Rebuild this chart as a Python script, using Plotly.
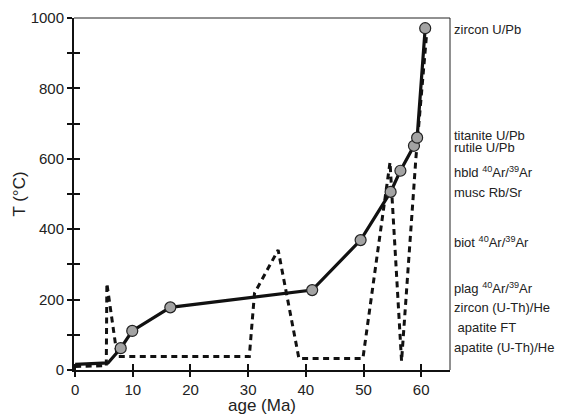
import plotly.graph_objects as go

# Solid path (T-t with data points)
solid_age = [0, 5.7, 7.9, 9.9, 16.5, 41.1, 49.5, 54.7, 56.4, 58.75, 59.3, 60.7]
solid_T = [16, 20, 62, 111, 178, 227, 369, 506, 566, 637, 660, 971]
marker_age = [7.9, 9.9, 16.5, 41.1, 49.5, 54.7, 56.4, 58.75, 59.3, 60.7]
marker_T = [62, 111, 178, 227, 369, 506, 566, 637, 660, 971]

# Dashed path
dash_age = [0, 5.4, 5.5, 7.3, 30.2, 31.1, 35.2, 38.8, 49.9, 54.6, 56.6, 59.1, 61.0]
dash_T = [10, 12, 246, 38, 38, 218, 341, 33, 33, 590, 25, 605, 965]

# Closure-temperature labels on the right
label_text = ["zircon U/Pb", "titanite U/Pb", "rutile U/Pb",
              "hbld <sup>40</sup>Ar/<sup>39</sup>Ar", "musc Rb/Sr",
              "biot <sup>40</sup>Ar/<sup>39</sup>Ar",
              "plag <sup>40</sup>Ar/<sup>39</sup>Ar", "zircon (U-Th)/He",
              " apatite FT", "apatite (U-Th)/He"]
label_T = [966, 665, 632, 562, 505, 364, 232, 177, 120, 63]

x_ticks = [0, 10, 20, 30, 40, 50, 60]
y_ticks = [0, 100, 200, 300, 400, 500, 600, 700, 800, 900, 1000]
y_ticktext = ["0", "", "200", "", "400", "", "600", "", "800", "", "1000"]

XR = [-0.2, 65]
YR = [0, 1000]
FONT = "Liberation Sans, Arial, sans-serif"

fig = go.Figure()
fig.add_trace(go.Scatter(x=dash_age, y=dash_T, mode="lines",
                         line=dict(color="#111111", width=3, dash="6px,4.5px"),
                         showlegend=False, hoverinfo="skip"))
fig.add_trace(go.Scatter(x=solid_age, y=solid_T, mode="lines",
                         line=dict(color="#111111", width=3.2),
                         showlegend=False))
fig.add_trace(go.Scatter(x=marker_age, y=marker_T, mode="markers",
                         marker=dict(size=11, color="#a3a3a3",
                                     line=dict(color="#222222", width=1.2)),
                         showlegend=False))
# helper trace for overlay axes (inside half of crossing ticks)
fig.add_trace(go.Scatter(x=[None], y=[None], xaxis="x2", yaxis="y2",
                         showlegend=False, hoverinfo="skip"))

for t, yv in zip(label_text, label_T):
    fig.add_annotation(x=1.0, xref="paper", xanchor="left", xshift=2,
                       y=yv, yref="y", yanchor="middle",
                       text=t, showarrow=False,
                       font=dict(family=FONT, size=13, color="#222222"),
                       align="left")

# frame top/right thin lines
fig.add_shape(type="line", xref="paper", yref="paper", x0=0, x1=1, y0=1, y1=1,
              line=dict(color="#222222", width=1))
fig.add_shape(type="line", xref="paper", yref="paper", x0=1, x1=1, y0=0, y1=1,
              line=dict(color="#222222", width=1))

axis_common = dict(showgrid=False, zeroline=False, showline=True,
                   linecolor="#111111", linewidth=2, automargin=False,
                   tickcolor="#111111", tickwidth=2)

fig.update_layout(
    width=568, height=415,
    margin=dict(l=74, r=118, t=18, b=45, pad=0, autoexpand=False),
    paper_bgcolor="white", plot_bgcolor="white",
    font=dict(family=FONT, color="#222222"),
    xaxis=dict(range=XR, tickvals=x_ticks, ticks="outside", ticklen=5,
               tickfont=dict(size=15, family=FONT, color="#222222"),
               title=dict(text="age (Ma)", font=dict(size=17, family=FONT, color="#222222"),
                          standoff=0),
               **axis_common),
    yaxis=dict(range=YR, tickvals=y_ticks, ticktext=y_ticktext, ticks="outside", ticklen=5,
               tickfont=dict(size=15, family=FONT, color="#222222"),
               title=dict(text="T (°C)", font=dict(size=17, family=FONT, color="#222222"),
                          standoff=1),
               **axis_common),
    xaxis2=dict(range=XR, overlaying="x", tickvals=x_ticks, ticks="inside", ticklen=6,
                showticklabels=False, side="bottom", **axis_common),
    yaxis2=dict(range=YR, overlaying="y", tickvals=y_ticks, ticks="inside", ticklen=6,
                showticklabels=False, side="left", **axis_common),
)

fig.write_html("out.html", config={"displayModeBar": False},
               post_script="document.body.style.margin='0';")
